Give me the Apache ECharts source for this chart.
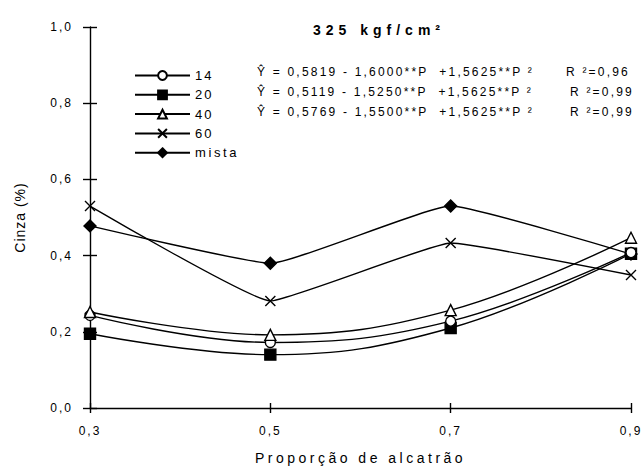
<!DOCTYPE html>
<html>
<head>
<meta charset="utf-8">
<script src="https://cdn.jsdelivr.net/npm/echarts@6/dist/echarts.min.js"></script>
<style>
  html, body { margin: 0; padding: 0; background: #ffffff; }
  #chart { width: 644px; height: 470px; }
  #chart text { letter-spacing: 2px; }
</style>
</head>
<body>
<div id="chart"></div>
<script>
// Ash content (%) versus tar proportion, 325 kgf/cm2
const proporcao = [0.3, 0.5, 0.7, 0.9];
const yTicks = [0, 0.2, 0.4, 0.6, 0.8, 1.0];

const seriesNames = ['14', '20', '40', '60', 'mista'];
const cinza14 = [0.243, 0.172, 0.228, 0.408];
const cinza20 = [0.195, 0.140, 0.210, 0.405];
const cinza40 = [0.252, 0.192, 0.257, 0.447];
const cinza60 = [0.530, 0.281, 0.433, 0.349];
const cinzaMista = [0.478, 0.380, 0.530, 0.404];

const equacoes = [
  'Ŷ = 0,5819 - 1,6000**P  +1,5625**P ²',
  'Ŷ = 0,5119 - 1,5250**P  +1,5625**P ²',
  'Ŷ = 0,5769 - 1,5500**P  +1,5625**P ²'
];
const coefR2 = ['R ²=0,96', 'R ²=0,99', 'R ²=0,99'];

const FONT = 'Liberation Sans, Arial, sans-serif';
const pares = vals => vals.map((v, i) => [proporcao[i], v]);
const comma = v => (Math.round(v * 10) / 10).toFixed(1).replace('.', ',');

const crossPath = 'path://M0,0L10,10M10,0L0,10';

function lineSeries(name, vals, symbol, fill, size, smooth, z) {
  return {
    name: name,
    type: 'line',
    data: pares(vals),
    smooth: smooth,
    symbol: symbol,
    symbolSize: size,
    showAllSymbol: true,
    z: z,
    lineStyle: { color: '#000', width: 1.4 },
    itemStyle: { color: fill, borderColor: '#000', borderWidth: 1.4, opacity: 1 },
    emphasis: { disabled: true },
    animation: false
  };
}

const chart = echarts.init(document.getElementById('chart'), null, { renderer: 'svg' });

const baseAxisY = {
  type: 'value',
  min: 0,
  max: 1,
  interval: 0.2,
  position: 'left',
  splitLine: { show: false }
};

chart.setOption({
  backgroundColor: '#ffffff',
  animation: false,
  title: {
    text: '325 kgf/cm²',
    left: 374,
    top: 18,
    textAlign: 'center',
    textStyle: { fontFamily: FONT, fontWeight: 'bold', fontSize: 14, color: '#000' }
  },
  legend: {
    orient: 'vertical',
    left: 129,
    top: 64,
    itemWidth: 55,
    itemHeight: 11,
    itemGap: 6.3,
    data: seriesNames,
    textStyle: { fontFamily: FONT, fontSize: 13, color: '#000' },
    selectedMode: false
  },
  grid: { left: 90, right: 13, top: 27, bottom: 61, containLabel: false },
  xAxis: [{
    type: 'value',
    min: 0.3,
    max: 0.9,
    interval: 0.2,
    name: 'Proporção de alcatrão',
    nameLocation: 'middle',
    nameGap: 43,
    nameTextStyle: { fontFamily: FONT, fontSize: 14, color: '#000' },
    axisLine: { show: true, lineStyle: { color: '#000', width: 1.4 } },
    axisTick: { show: true, length: 5, lineStyle: { color: '#000', width: 1.4 } },
    axisLabel: { formatter: comma, fontFamily: FONT, fontSize: 12, color: '#000', margin: 17 },
    splitLine: { show: false }
  }, {
    type: 'value',
    min: 0.3,
    max: 0.9,
    interval: 0.2,
    position: 'bottom',
    axisLine: { show: false },
    axisTick: { show: true, inside: true, length: 5, lineStyle: { color: '#000', width: 1.4 } },
    axisLabel: { show: false },
    splitLine: { show: false }
  }],
  yAxis: [Object.assign({}, baseAxisY, {
    name: 'Cinza (%)',
    nameLocation: 'middle',
    nameGap: 63,
    nameTextStyle: { fontFamily: FONT, fontSize: 14, color: '#000' },
    axisLine: { show: true, lineStyle: { color: '#000', width: 1.4 } },
    axisTick: { show: true, length: 7, lineStyle: { color: '#000', width: 1.4 } },
    axisLabel: { formatter: comma, fontFamily: FONT, fontSize: 12, color: '#000', margin: 17 }
  }), Object.assign({}, baseAxisY, {
    axisLine: { show: false },
    axisTick: { show: true, inside: true, length: 7, lineStyle: { color: '#000', width: 1.4 } },
    axisLabel: { show: false }
  })],
  graphic: equacoes.map((eq, i) => ({
    type: 'text',
    left: 257,
    top: 66 + i * 20,
    silent: true,
    style: { text: eq, fontFamily: FONT, fontSize: 12, fill: '#000' }
  })).concat(coefR2.map((r, i) => ({
    type: 'text',
    left: i === 0 ? 566 : 570,
    top: 66 + i * 20,
    silent: true,
    style: { text: r, fontFamily: FONT, fontSize: 12, fill: '#000' }
  }))),
  series: [
    lineSeries('60', cinza60, crossPath, 'rgba(0,0,0,0)', 10, 0.1, 2),
    lineSeries('mista', cinzaMista, 'diamond', '#000', 12, 0.12, 3),
    lineSeries('20', cinza20, 'rect', '#000', 11, 0.4, 4),
    lineSeries('14', cinza14, 'circle', '#fff', 10, 0.4, 5),
    lineSeries('40', cinza40, 'triangle', '#fff', 11, 0.4, 6)
  ]
});

// Wider tracking for the title, axis names and the fitted equations
function spaceText() {
  const spacing = [
    [/kgf/, '5px'],
    [/Proporção/, '3.5px'],
    [/Cinza/, '1px'],
    [/^Ŷ|^R /, '2.2px'],
    [/mista/, '2.6px']
  ];
  document.querySelectorAll('#chart text').forEach(t => {
    const s = t.textContent;
    for (const [re, v] of spacing) {
      if (re.test(s)) { t.style.letterSpacing = v; break; }
    }
  });
}
spaceText();
chart.on('finished', spaceText);
</script>
</body>
</html>
